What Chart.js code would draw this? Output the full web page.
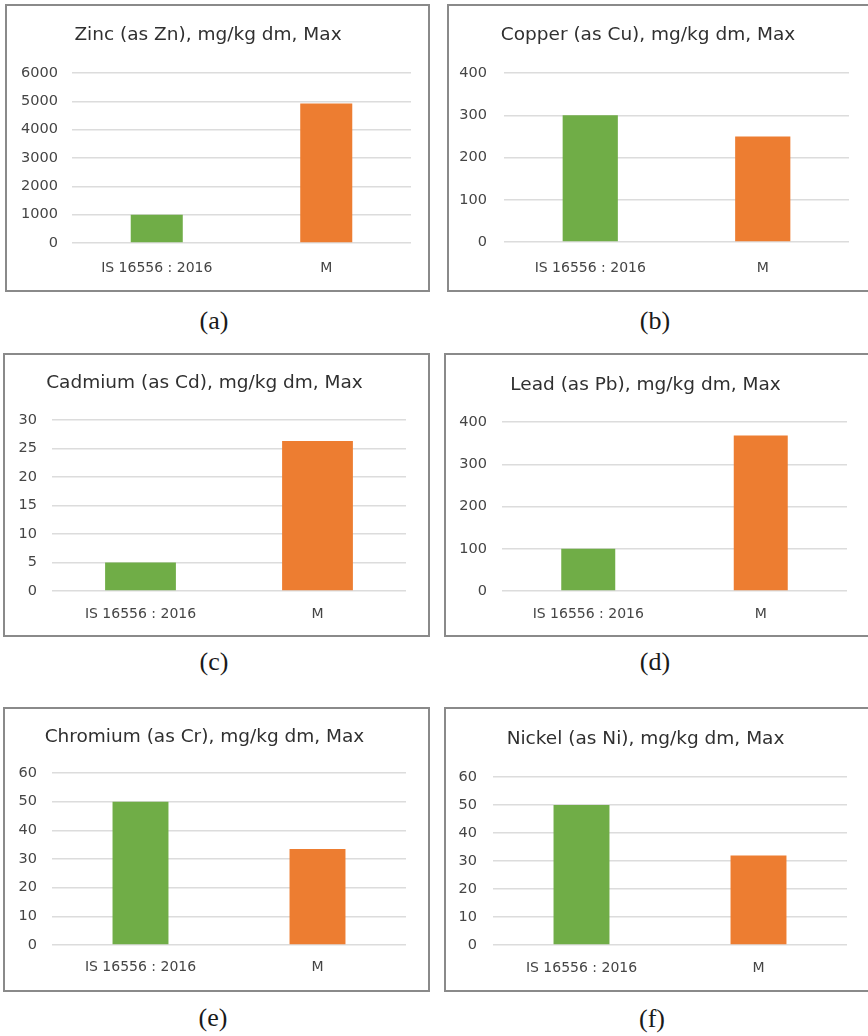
<!DOCTYPE html>
<html>
<head>
<meta charset="utf-8">
<script src="https://cdn.jsdelivr.net/npm/chart.js@4.4.1/dist/chart.umd.min.js"></script>
<style>
  html, body { margin: 0; padding: 0; background: #ffffff; }
  body { width: 868px; height: 1036px; position: relative; overflow: hidden; }
  .panel { position: absolute; box-sizing: border-box; border: 2px solid #8a8a8a; background: #fff; }
  canvas { position: absolute; }
  .cap { position: absolute; font-family: "Liberation Serif", "DejaVu Serif", serif; font-size: 26px; color: #1a1a1a; transform: translate(-50%, -50%); white-space: nowrap; }
</style>
</head>
<body>
<script>
// ---- data ----
const categories = ['IS 16556 : 2016', 'M'];
const chartTitles = [
  'Zinc (as Zn), mg/kg dm, Max',
  'Copper (as Cu), mg/kg dm, Max',
  'Cadmium (as Cd), mg/kg dm, Max',
  'Lead (as Pb), mg/kg dm, Max',
  'Chromium (as Cr), mg/kg dm, Max',
  'Nickel (as Ni), mg/kg dm, Max'
];
const zincValues = [1000, 4920];
const copperValues = [300, 250];
const cadmiumValues = [5, 26.3];
const leadValues = [100, 368];
const chromiumValues = [50, 33.5];
const nickelValues = [50, 32];
const axisMax = [6000, 400, 30, 400, 60, 60];
const axisStep = [1000, 100, 5, 100, 10, 10];
const captions = ['(a)', '(b)', '(c)', '(d)', '(e)', '(f)'];

const seriesList = [zincValues, copperValues, cadmiumValues, leadValues, chromiumValues, nickelValues];

// ---- layout (positions/sizes) ----
const layouts = [
  {left: 5,   top: 4,   w: 425, h: 288, yW: 67, padR: 19, tTop: 20, tBot: 26.8, xH: 49, xPad: 17, tickPad: 14, cat: 0.307, capX: 214, capY: 321},
  {left: 447, top: 4,   w: 423, h: 288, yW: 57, padR: 21, tTop: 20, tBot: 26.8, xH: 50, xPad: 18, tickPad: 17, cat: 0.32,  capX: 655, capY: 321},
  {left: 3,   top: 353, w: 427, h: 284, yW: 49, padR: 24, tTop: 19, tBot: 25.8, xH: 46, xPad: 15, tickPad: 15, cat: 0.40,  capX: 214, capY: 662},
  {left: 444, top: 353, w: 426, h: 284, yW: 58, padR: 23, tTop: 21, tBot: 25.8, xH: 46, xPad: 15, tickPad: 15, cat: 0.313, capX: 655, capY: 662},
  {left: 3,   top: 707, w: 427, h: 285, yW: 49, padR: 24, tTop: 19, tBot: 24.8, xH: 47, xPad: 14, tickPad: 15, cat: 0.316, capX: 213, capY: 1018},
  {left: 444, top: 707, w: 426, h: 285, yW: 49, padR: 23, tTop: 21, tBot: 26.8, xH: 47, xPad: 15, tickPad: 16, cat: 0.316, capX: 652, capY: 1019}
];

const barColors = ['#70AD47', '#ED7D31'];
const fontFamily = '"DejaVu Sans", "Open Sans", sans-serif';

seriesList.forEach((vals, i) => {
  const L = layouts[i];
  const panel = document.createElement('div');
  panel.className = 'panel';
  panel.style.left = L.left + 'px';
  panel.style.top = L.top + 'px';
  panel.style.width = L.w + 'px';
  panel.style.height = L.h + 'px';
  document.body.appendChild(panel);

  const cv = document.createElement('canvas');
  cv.width = L.w; cv.height = L.h;
  cv.style.left = L.left + 'px';
  cv.style.top = L.top + 'px';
  cv.style.width = L.w + 'px';
  cv.style.height = L.h + 'px';
  document.body.appendChild(cv);

  const cap = document.createElement('div');
  cap.className = 'cap';
  cap.textContent = captions[i];
  cap.style.left = L.capX + 'px';
  cap.style.top = L.capY + 'px';
  document.body.appendChild(cap);

  new Chart(cv.getContext('2d'), {
    type: 'bar',
    data: {
      labels: categories,
      datasets: [{
        data: vals,
        backgroundColor: barColors,
        borderWidth: 0,
        barPercentage: 1,
        categoryPercentage: L.cat
      }]
    },
    options: {
      responsive: false,
      animation: false,
      devicePixelRatio: 1,
      layout: { padding: { left: 0, right: L.padR, top: 0, bottom: 0 } },
      plugins: {
        legend: { display: false },
        tooltip: { enabled: false },
        title: {
          display: true,
          text: chartTitles[i],
          color: '#303030',
          font: { family: fontFamily, size: 18.5, weight: 'normal', lineHeight: 1.2 },
          padding: { top: L.tTop, bottom: L.tBot }
        }
      },
      scales: {
        x: {
          grid: { display: false, drawTicks: false },
          border: { display: false },
          ticks: {
            color: '#454545',
            padding: L.xPad,
            font: { family: fontFamily, size: 14, lineHeight: 1.2 },
            maxRotation: 0, autoSkip: false
          },
          afterFit: (s) => { s.height = L.xH; }
        },
        y: {
          min: 0,
          max: axisMax[i],
          grid: { color: '#dcdcdc', lineWidth: 1.5, drawTicks: false },
          border: { display: false },
          ticks: {
            stepSize: axisStep[i],
            color: '#454545',
            padding: L.tickPad,
            font: { family: fontFamily, size: 14.5, lineHeight: 1.2 },
            callback: (v) => String(v)
          },
          afterFit: (s) => { s.width = L.yW; }
        }
      }
    }
  });
});
</script>
</body>
</html>
